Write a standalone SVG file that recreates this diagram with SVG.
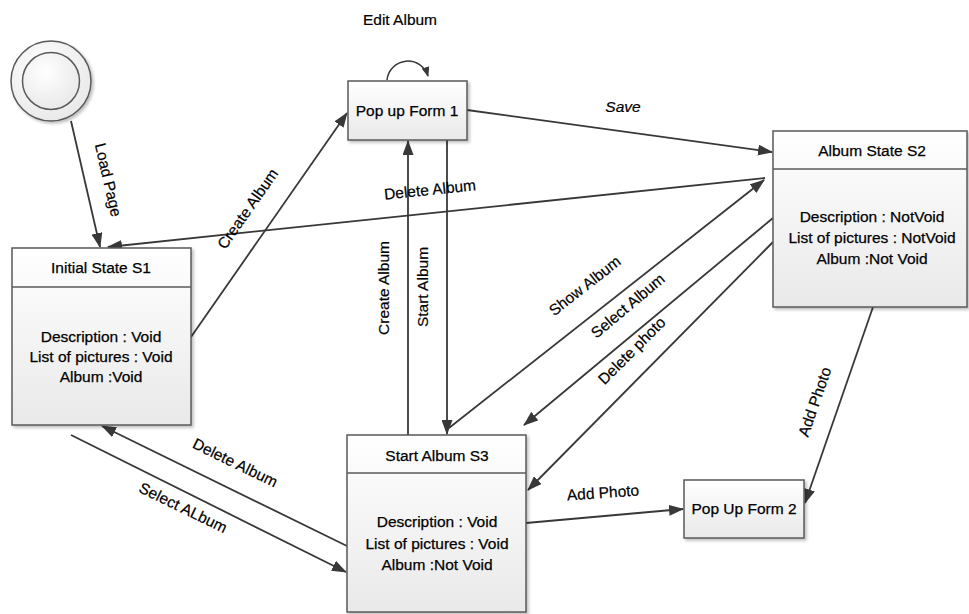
<svg xmlns="http://www.w3.org/2000/svg" width="969" height="614" viewBox="0 0 969 614">
<style>
  .box { fill: url(#g); stroke: #5a5a5a; stroke-width: 1.5; filter: url(#sh); }
  .div { stroke: #5a5a5a; stroke-width: 1.5; }
  .t { font-family: "Liberation Sans", Arial, sans-serif; font-size: 15.5px; fill: #000; stroke: #000; stroke-width: 0.25; text-anchor: middle; }
  .lb { font-family: "Liberation Sans", Arial, sans-serif; font-size: 15.5px; fill: #000; stroke: #000; stroke-width: 0.2; text-anchor: middle; }
  .c { fill: none; stroke: #383838; stroke-width: 1.8; marker-end: url(#ah); }
</style>
<defs>
  <linearGradient id="g" x1="0" y1="0" x2="0" y2="1">
    <stop offset="0" stop-color="#ffffff"/>
    <stop offset="1" stop-color="#e9e9e9"/>
  </linearGradient>
  <radialGradient id="cg" cx="0.4" cy="0.35" r="0.7">
    <stop offset="0" stop-color="#ffffff"/>
    <stop offset="1" stop-color="#e8e8e8"/>
  </radialGradient>
  <filter id="sh" x="-10%" y="-10%" width="130%" height="130%">
    <feDropShadow dx="2" dy="2" stdDeviation="1.5" flood-color="#000" flood-opacity="0.25"/>
  </filter>
  <marker id="ah" viewBox="0 0 15 11" refX="14" refY="5.5" markerWidth="15" markerHeight="11" markerUnits="userSpaceOnUse" orient="auto">
    <path d="M0,0 L15,5.5 L0,11 z" fill="#383838"/>
  </marker>
  <marker id="ahs" viewBox="0 0 10 8" refX="9" refY="4" markerWidth="10" markerHeight="8" markerUnits="userSpaceOnUse" orient="auto">
    <path d="M0,0 L10,4 L0,8 z" fill="#383838"/>
  </marker>
</defs>

<g id="connectors">
  <path class="c" d="M71,121 L100,247"/>
  <path class="c" d="M765,178 L108,247"/>
  <path class="c" d="M191,337 L347,113"/>
  <path class="c" d="M467,110 L772,152"/>
  <path d="M387,80 A21,21 0 0 1 428,76" fill="none" stroke="#383838" stroke-width="1.5" marker-end="url(#ahs)"/>
  <path class="c" d="M408,435 L408,141"/>
  <path class="c" d="M447,140 L447,434"/>
  <path class="c" d="M449,428 L764,180"/>
  <path class="c" d="M773,218 L524,425"/>
  <path class="c" d="M773,242 L528,490"/>
  <path class="c" d="M873,307 L805,503"/>
  <path class="c" d="M526,523 L683,509"/>
  <path class="c" d="M347,546 L102,426"/>
  <path class="c" d="M71,435 L346,572"/>
</g>

<g id="labels">
  <text class="lb" x="400" y="25">Edit Album</text>
  <text class="lb" x="623" y="112" font-style="italic">Save</text>
  <text class="lb" transform="translate(108,180) rotate(77)" x="0" y="5">Load Page</text>
  <text class="lb" transform="translate(248,209) rotate(-55)" x="0" y="5">Create Album</text>
  <text class="lb" transform="translate(430,190) rotate(-6)" x="0" y="5">Delete Album</text>
  <text class="lb" transform="translate(384,288) rotate(-90)" x="0" y="5">Create Album</text>
  <text class="lb" transform="translate(423,287) rotate(-90)" x="0" y="5">Start Album</text>
  <text class="lb" transform="translate(585,286) rotate(-38)" x="0" y="5">Show Album</text>
  <text class="lb" transform="translate(628,306) rotate(-40)" x="0" y="5">Select Album</text>
  <text class="lb" transform="translate(632,351) rotate(-45)" x="0" y="5">Delete photo</text>
  <text class="lb" transform="translate(815,402) rotate(-71)" x="0" y="5">Add Photo</text>
  <text class="lb" transform="translate(603,493) rotate(-4)" x="0" y="5">Add Photo</text>
  <text class="lb" transform="translate(235,463) rotate(26)" x="0" y="5">Delete Album</text>
  <text class="lb" transform="translate(183,508) rotate(26)" x="0" y="5">Select ALbum</text>
</g>

<g id="start">
  <circle cx="51" cy="81" r="40" fill="url(#cg)" stroke="#5a5a5a" stroke-width="1.5" filter="url(#sh)"/>
  <circle cx="51" cy="81" r="28.5" fill="url(#cg)" stroke="#5a5a5a" stroke-width="1.5"/>
</g>

<g id="s1">
  <rect class="box" x="12" y="248" width="179" height="177"/>
  <line class="div" x1="12" y1="287" x2="191" y2="287"/>
  <text class="t" x="101" y="273">Initial State S1</text>
  <text class="t" x="101" y="342">Description : Void</text>
  <text class="t" x="101" y="362">List of pictures : Void</text>
  <text class="t" x="101" y="382">Album :Void</text>
</g>

<g id="popup1">
  <rect class="box" x="348" y="81" width="119" height="59"/>
  <text class="t" x="407" y="116">Pop up Form 1</text>
</g>

<g id="s2">
  <rect class="box" x="773" y="131" width="194" height="176"/>
  <line class="div" x1="773" y1="169" x2="967" y2="169"/>
  <text class="t" x="872" y="156">Album State S2</text>
  <text class="t" x="872" y="222">Description : NotVoid</text>
  <text class="t" x="872" y="243">List of pictures : NotVoid</text>
  <text class="t" x="872" y="264">Album :Not Void</text>
</g>

<g id="s3">
  <rect class="box" x="347" y="435" width="179" height="177"/>
  <line class="div" x1="347" y1="473" x2="526" y2="473"/>
  <text class="t" x="437" y="461">Start Album S3</text>
  <text class="t" x="437" y="527">Description : Void</text>
  <text class="t" x="437" y="549">List of pictures : Void</text>
  <text class="t" x="437" y="570">Album :Not Void</text>
</g>

<g id="popup2">
  <rect class="box" x="684" y="480" width="120" height="58"/>
  <text class="t" x="744" y="514">Pop Up Form 2</text>
</g>
</svg>
